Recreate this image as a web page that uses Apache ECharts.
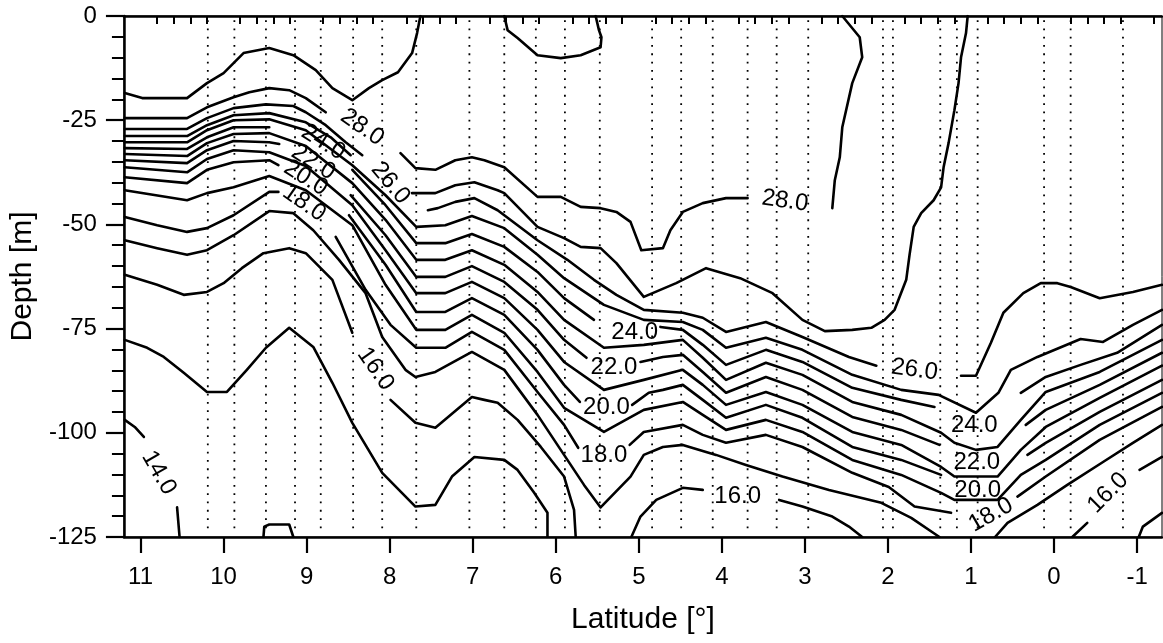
<!DOCTYPE html>
<html><head><meta charset="utf-8">
<script src="https://cdn.jsdelivr.net/npm/echarts@6/dist/echarts.min.js"></script>
<style>html,body{margin:0;padding:0;background:#fff}#c{width:1163px;height:643px}</style>
</head><body><div id="c"></div>
<script>
// ---- data: station latitudes (dotted verticals) ----
const stations = [10.19, 9.87, 9.49, 9.14, 8.83, 8.44, 8.09, 7.68, 7.04, 6.62, 6.24, 5.89, 5.47, 4.84, 4.49, 4.11, 3.69, 3.34, 2.96, 2.06, 1.94, 1.37, 1.17, 0.92, 0.12, -0.20, -0.83];
// ---- tick labels ----
const latTicks = [11, 10, 9, 8, 7, 6, 5, 4, 3, 2, 1, 0, -1];
const depthTicks = [0, -25, -50, -75, -100, -125];
// ---- contour lines [latitude, depth]; null = gap ----
const c29 = [[11.19,-18.5],[10.98,-19.7],[10.44,-19.7],[10.20,-16.1],[10.00,-13.7],[9.76,-8.9],[9.45,-7.7],[9.16,-9.4],[8.89,-13.0],[8.69,-17.3],[8.45,-20.2],[8.25,-17.3],[8.09,-15.4],[7.90,-13.5],[7.73,-8.9],[7.67,-4.1],[7.63,0], null,
  [6.62,0],[6.58,-3.4],[6.46,-5.3],[6.22,-9.4],[5.94,-10.1],[5.70,-9.4],[5.46,-7.5],[5.45,-5.1],[5.48,-3.4],[5.52,0]];
const c28 = [[11.19,-24.5],[10.44,-24.5],[10.20,-21.9],[9.88,-19.5],[9.69,-18.3],[9.45,-17.3],[9.21,-17.8],[9.01,-19.7],[8.77,-23.1], null,
  [7.87,-32.9],[7.69,-36.5],[7.45,-36.9],[7.21,-34.6],[7.01,-33.9],[6.86,-34.6],[6.62,-36.3],[6.22,-43.4],[5.94,-43.4],[5.70,-45.8],[5.46,-46.1],[5.27,-47.0],[5.10,-49.4],[4.97,-56.2],[4.71,-55.7],[4.62,-51.4],[4.47,-47.0],[4.23,-44.9],[3.95,-43.7],[3.69,-43.7], null,
  [2.67,-46.1],[2.64,-39.4],[2.58,-33.9],[2.55,-26.7],[2.43,-16.1],[2.31,-9.9],[2.34,-5.1],[2.55,0]];
const c27 = [[11.19,-27.1],[10.44,-27.1],[10.20,-24.5],[9.88,-22.1],[9.49,-21.2],[9.16,-21.6],[9.01,-23.1],[8.77,-26.2],[8.53,-30.3],[8.33,-33.4], null,
  [7.73,-42.5],[7.45,-42.5],[7.21,-40.6],[6.98,-39.9],[6.70,-41.8],[6.62,-42.5],[6.22,-50.6],[5.90,-53.3],[5.70,-55.4],[5.46,-55.7],[5.27,-59.3],[4.94,-67.4],[4.55,-64.1],[4.19,-60.5],[3.78,-62.9],[3.39,-66.5],[3.03,-72.9],[2.76,-75.6],[2.43,-75.3],[2.20,-74.8],[2.04,-72.9],[1.92,-70.5],[1.78,-63.3],[1.74,-57.3],[1.69,-50.6],[1.60,-47.3],[1.45,-44.2],[1.36,-41.1],[1.33,-36.3],[1.27,-30.5],[1.20,-22.6],[1.15,-16.1],[1.12,-9.9],[1.06,-4.1],[1.04,0]];
const c26 = [[11.19,-28.8],[10.44,-28.8],[10.20,-26.2],[9.88,-23.8],[9.45,-23.3],[9.01,-25.5],[8.71,-29.1],[8.47,-33.4], null,
  [7.54,-46.6],[7.42,-46.1],[7.21,-44.6],[6.98,-43.7],[6.70,-46.6],[6.22,-53.8],[5.86,-58.5],[5.54,-63.3],[5.27,-66.9],[4.94,-70.5],[4.47,-71.2],[4.23,-72.4],[3.95,-75.8],[3.47,-73.4],[3.03,-77.0],[2.47,-81.8],[2.14,-83.9], null,
  [1.12,-86.3],[0.94,-86.3],[0.76,-78.4],[0.61,-71.2],[0.37,-66.5],[0.16,-64.1],[-0.04,-64.1],[-0.20,-65.0],[-0.55,-67.7],[-0.95,-66.2],[-1.30,-64.5]];
const c25 = [[11.19,-30.3],[10.44,-30.3],[10.20,-27.4],[9.88,-25.0],[9.45,-24.8],[9.01,-27.4],[8.45,-35.8],[8.05,-43.0],[7.68,-50.6],[7.33,-50.2],[7.01,-48.0],[6.62,-50.9],[6.22,-57.3],[5.90,-62.9],[5.42,-69.3],[4.94,-72.9],[4.47,-73.4],[4.23,-75.3],[3.95,-79.6],[3.47,-77.2],[3.03,-80.1],[2.43,-86.1],[1.84,-89.7],[1.39,-90.9],[0.94,-95.2],[0.67,-90.4],[0.52,-84.9],[0.20,-81.8],[-0.32,-77.5],[-0.59,-78.2],[-0.95,-74.1],[-1.30,-70.5]];
const c24 = [[11.19,-31.7],[10.44,-31.9],[10.20,-29.1],[9.88,-26.7],[9.45,-26.7], null,
  [8.45,-36.9],[8.05,-45.4],[7.68,-54.5],[7.33,-54.5],[7.01,-52.3],[6.62,-55.4],[6.22,-61.4],[5.90,-67.7],[5.54,-72.9], null,
  [4.74,-74.6],[4.47,-75.3],[4.23,-78.9],[3.95,-83.7],[3.47,-80.1],[3.03,-83.0],[2.43,-89.2],[1.84,-92.1],[1.44,-93.8], null,
  [0.40,-90.4],[0.10,-86.6],[-0.32,-83.7],[-0.76,-80.8],[-1.30,-74.1]];
const c23 = [[11.19,-33.1],[10.44,-33.6],[10.20,-30.5],[9.88,-28.3],[9.45,-28.1],[9.01,-31.2],[8.45,-40.1],[8.05,-48.9],[7.68,-58.5],[7.33,-58.5],[7.01,-56.2],[6.62,-59.7],[6.22,-66.2],[5.90,-72.9],[5.42,-79.6],[4.94,-78.9],[4.47,-77.7],[4.23,-82.0],[3.95,-87.3],[3.47,-83.2],[3.03,-86.1],[2.43,-92.6],[1.84,-95.7],[1.36,-100.0],[1.20,-102.4],[0.94,-104.1],[0.68,-103.4],[0.40,-96.9],[0.10,-90.2],[-0.55,-85.4],[-1.30,-77.7]];
const c22 = [[11.19,-34.6],[10.44,-35.3],[10.20,-32.2],[9.88,-30.0],[9.45,-30.3],[9.33,-30.7], null,
  [8.47,-43.0],[8.05,-52.6],[7.68,-62.6],[7.33,-62.6],[7.01,-60.0],[6.62,-63.8],[6.22,-70.5],[5.90,-77.7],[5.63,-82.0], null,
  [4.98,-83.0],[4.71,-81.8],[4.47,-81.3],[4.23,-85.4],[3.95,-90.4],[3.47,-86.6],[3.03,-89.7],[2.43,-96.2],[1.84,-99.3],[1.38,-102.9], null,
  [0.34,-98.1],[0.10,-94.5],[-0.55,-88.5],[-1.30,-80.8]];
const c21 = [[11.19,-36.3],[10.44,-37.5],[10.20,-34.3],[9.88,-32.2],[9.45,-32.7],[9.01,-36.0],[8.45,-45.4],[8.05,-56.2],[7.68,-66.5],[7.33,-66.5],[7.01,-63.8],[6.62,-67.7],[6.22,-75.3],[5.90,-83.0],[5.42,-89.7],[4.94,-87.3],[4.47,-84.9],[4.23,-88.5],[3.95,-93.3],[3.47,-90.2],[3.03,-93.3],[2.43,-99.8],[1.84,-102.9],[1.36,-108.2],[1.20,-110.5],[0.68,-110.5],[0.40,-104.1],[0.10,-98.6],[-0.55,-91.6],[-1.30,-83.9]];
const c20 = [[11.19,-38.7],[10.44,-40.1],[10.20,-36.9],[9.88,-35.1],[9.45,-34.6],[9.34,-35.8], null,
  [8.49,-47.8],[8.05,-59.7],[7.68,-71.0],[7.33,-71.0],[7.01,-67.7],[6.62,-71.7],[6.22,-80.1],[5.90,-88.5],[5.71,-92.6], null,
  [5.08,-93.3],[4.88,-90.4],[4.71,-89.7],[4.47,-88.5],[4.23,-92.1],[3.95,-96.4],[3.47,-93.3],[3.03,-96.4],[2.43,-103.4],[1.84,-106.5],[1.36,-110.1], null,
  [0.32,-105.3],[0.10,-102.4],[-0.55,-95.0],[-1.30,-87.3]];
const c19 = [[11.19,-41.8],[10.44,-44.2],[10.20,-42.5],[9.88,-41.1],[9.45,-38.4],[9.01,-41.8],[8.45,-50.2],[8.05,-64.5],[7.68,-75.3],[7.33,-75.3],[7.01,-71.7],[6.62,-76.0],[6.22,-85.4],[5.90,-94.0],[5.42,-99.8],[4.94,-94.5],[4.47,-92.6],[4.23,-95.7],[3.95,-99.3],[3.47,-96.9],[3.03,-99.8],[2.43,-106.5],[1.84,-110.1],[1.36,-114.4],[1.20,-116.1],[0.68,-116.1],[0.40,-110.1],[0.10,-106.5],[-0.55,-98.1],[-1.30,-90.4]];
const c18 = [[11.19,-48.2],[10.80,-50.2],[10.44,-51.8],[10.20,-50.9],[9.88,-47.8],[9.45,-42.2],[9.34,-42.2], null,
  [8.65,-53.0],[8.29,-65.7],[7.99,-74.1],[7.68,-79.6],[7.33,-79.6],[7.01,-75.8],[6.62,-80.1],[6.22,-90.2],[5.90,-98.1],[5.73,-103.6], null,
  [5.11,-102.9],[4.94,-99.8],[4.47,-98.1],[4.23,-100.5],[3.95,-102.4],[3.47,-100.5],[3.03,-103.4],[2.43,-109.6],[1.99,-113.0],[1.68,-117.7],[1.24,-119.2], null,
  [0.44,-115.3],[0.10,-110.5],[-0.55,-101.7],[-1.30,-93.8]];
const c17 = [[11.19,-53.8],[10.80,-55.7],[10.44,-57.3],[10.20,-56.2],[9.88,-52.6],[9.45,-46.8],[9.16,-47.3],[8.92,-51.4],[8.61,-58.5],[8.29,-66.5],[8.09,-77.0],[7.81,-84.9],[7.69,-86.6],[7.45,-85.4],[7.01,-80.6],[6.62,-84.9],[6.22,-95.7],[5.90,-105.3],[5.66,-112.5],[5.46,-117.9],[5.10,-110.5],[4.94,-105.3],[4.71,-103.4],[4.47,-102.9],[4.07,-105.3],[3.71,-107.7],[3.27,-110.5],[2.71,-113.7],[2.08,-116.8],[1.72,-120.4],[1.38,-125], null,
  [0.71,-125],[0.56,-121.6],[0.20,-117.3],[-0.16,-112.5],[-0.59,-107.0],[-0.95,-102.4],[-1.30,-98.1]];
const c16 = [[11.19,-62.1],[10.80,-64.5],[10.48,-66.9],[10.20,-66.2],[10.00,-64.1],[9.78,-60.5],[9.52,-56.9],[9.21,-55.7],[9.01,-56.9],[8.69,-63.3],[8.45,-76.0], null,
  [7.99,-92.1],[7.69,-97.6],[7.45,-98.8],[7.01,-91.4],[6.86,-92.1],[6.70,-92.8],[6.46,-96.9],[6.18,-103.4],[5.90,-110.5],[5.78,-118.5],[5.76,-125], null,
  [5.09,-125],[4.98,-120.1],[4.79,-116.1],[4.47,-113.2],[4.23,-113.7], null,
  [3.31,-116.1],[3.03,-117.7],[2.67,-120.1],[2.47,-122.5],[2.31,-125], null,
  [-0.22,-125],[-0.40,-121.6], null,
  [-1.03,-108.9],[-1.30,-105.8]];
const c15 = [[11.19,-77.7],[10.92,-79.6],[10.72,-81.8],[10.48,-85.6],[10.20,-90.2],[9.96,-90.2],[9.72,-84.9],[9.49,-79.6],[9.21,-74.8],[8.92,-79.4],[8.69,-88.0],[8.45,-97.6],[8.09,-109.6],[7.69,-117.7],[7.45,-117.3],[7.25,-110.5],[6.98,-105.8],[6.62,-106.5],[6.46,-108.9],[6.26,-114.4],[6.10,-119.2],[6.10,-125], null,
  [-1.02,-125],[-1.07,-122.5],[-1.30,-119.2]];
const c14 = [[11.19,-96.9],[11.07,-98.6],[10.96,-101.0], null,
  [10.56,-117.9],[10.53,-125], null,
  [9.52,-125],[9.51,-122.5],[9.45,-122.0],[9.21,-122.0],[9.16,-125]];
// ---- contour labels ----
const labelTexts = ['28.0','26.0','24.0','22.0','20.0','18.0','28.0','24.0','22.0','20.0','18.0','16.0','26.0','24.0','22.0','20.0','18.0','16.0','16.0','14.0'];
const labelPos = [[8.33,-26.7],[7.99,-40.1],[8.80,-30.3],[8.92,-35.1],[9.01,-38.9],[9.03,-44.9],[3.24,-44.4],[5.05,-75.8],[5.30,-84.4],[5.39,-93.8],[5.42,-105.3],[3.81,-115.3],[1.68,-84.9],[0.96,-98.1],[0.93,-107.2],[0.92,-113.7],[0.76,-119.7],[-0.65,-114.4],[8.17,-84.7],[10.78,-109.6]];
const labelAngles = [-35,-50,-32,-32,-32,-35,-8,0,0,0,0,0,-8,0,0,0,30,45,-55,-60];

const FONT = '"Liberation Sans", Arial, Helvetica, sans-serif';
const contours = [c29,c28,c27,c26,c25,c24,c23,c22,c21,c20,c19,c18,c17,c16,c15,c14];
function pieces(arr){const out=[];let cur=[];arr.forEach(p=>{if(p===null){if(cur.length)out.push(cur);cur=[];}else cur.push(p);});if(cur.length)out.push(cur);return out;}
const minorTicks=[];for(let i=-6;i<=55;i++){const v=Math.round(i*0.2*10)/10;if(Math.abs(v-Math.round(v))>1e-6)minorTicks.push(v);}

const series=[];
stations.forEach(s=>series.push({type:'line',data:[[s,-1],[s,-123.5]],symbol:'none',silent:true,animation:false,
  lineStyle:{color:'#000',width:1.8,type:[1.8,6.5]}}));
contours.forEach(c=>pieces(c).forEach(p=>series.push({type:'line',data:p,symbol:'none',showSymbol:false,clip:true,silent:true,animation:false,
  lineStyle:{color:'#000',width:2.6,cap:'round',join:'round'}})));
series.push({type:'scatter',symbolSize:0.01,itemStyle:{color:'#000'},silent:true,animation:false,z:10,
  labelLayout:{hideOverlap:false},
  data:labelTexts.map((t,i)=>({name:t,value:labelPos[i],label:{show:true,rotate:labelAngles[i]}})),
  label:{show:true,position:[0,0],align:'center',verticalAlign:'middle',formatter:'{b}',color:'#000',opacity:1,fontSize:24,fontFamily:FONT,textBorderWidth:0}});

const chart=echarts.init(document.getElementById('c'),null,{renderer:'canvas'});
chart.setOption({
  animation:false,
  backgroundColor:'#fff',
  textStyle:{fontFamily:FONT},
  grid:{left:117,right:1,top:16,bottom:106,show:true,borderColor:'#000',borderWidth:1},
  xAxis:[
    {type:'value',min:-1.3,max:11.2,inverse:true,position:'bottom',
     axisLine:{show:true,onZero:false,lineStyle:{color:'#000',width:2.5}},
     axisTick:{show:true,customValues:latTicks,length:16,lineStyle:{color:'#000',width:2.2}},
     axisLabel:{customValues:latTicks,fontSize:24,color:'#000',margin:28,fontFamily:FONT},
     splitLine:{show:false},
     name:'Latitude [°]',nameLocation:'middle',nameGap:68,nameTextStyle:{fontSize:30,color:'#000',fontFamily:FONT}},
    {type:'value',min:-1.3,max:11.2,inverse:true,position:'bottom',
     axisLine:{show:false},axisTick:{show:true,customValues:minorTicks,length:8,lineStyle:{color:'#000',width:2}},
     axisLabel:{show:false},splitLine:{show:false}},
    {type:'value',min:-1.3,max:11.2,inverse:true,position:'top',
     axisLine:{show:true,onZero:false,lineStyle:{color:'#000',width:2.5}},
     axisTick:{show:false},axisLabel:{show:false},splitLine:{show:false}}
  ],
  yAxis:{type:'value',min:-125,max:0,interval:25,
    axisLine:{show:true,onZero:false,lineStyle:{color:'#000',width:2.5}},
    axisTick:{show:true,length:18,lineStyle:{color:'#000',width:2.2}},
    minorTick:{show:true,splitNumber:5,length:12,lineStyle:{color:'#000',width:2}},
    axisLabel:{fontSize:24,color:'#000',margin:27,fontFamily:FONT},
    splitLine:{show:false},minorSplitLine:{show:false},
    name:'Depth [m]',nameLocation:'middle',nameGap:75,nameTextStyle:{fontSize:30,color:'#000',fontFamily:FONT}},
  series:series
});
</script></body></html>
